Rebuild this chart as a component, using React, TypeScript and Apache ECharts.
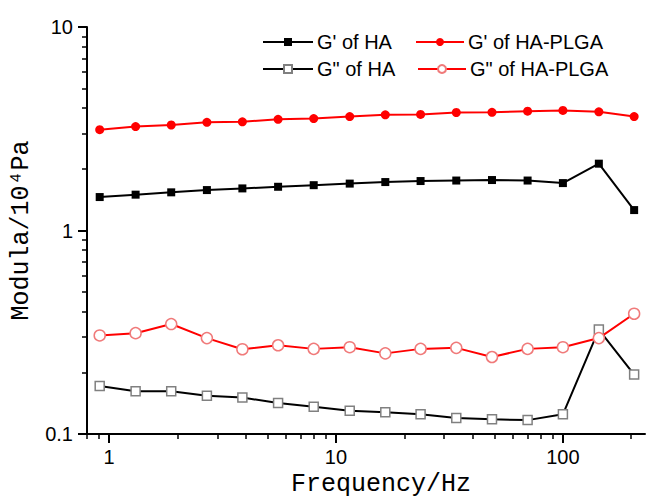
import React, { useEffect, useRef } from "react";
import * as echarts from "echarts";

const freq = [0.91, 1.31, 1.88, 2.7, 3.87, 5.56, 7.98, 11.5, 16.5, 23.6, 33.9, 48.7, 69.9, 100, 144, 206];
const gpHA = [1.46, 1.5, 1.54, 1.58, 1.61, 1.64, 1.67, 1.7, 1.73, 1.75, 1.76, 1.77, 1.76, 1.71, 2.13, 1.26];
const gpHAPLGA = [3.13, 3.24, 3.3, 3.4, 3.42, 3.52, 3.55, 3.63, 3.7, 3.72, 3.8, 3.81, 3.86, 3.89, 3.83, 3.63];
const gppHA = [0.172, 0.162, 0.162, 0.154, 0.151, 0.142, 0.136, 0.13, 0.128, 0.125, 0.12, 0.118, 0.117, 0.125, 0.326, 0.196];
const gppHAPLGA = [0.305, 0.313, 0.347, 0.296, 0.261, 0.273, 0.262, 0.267, 0.249, 0.262, 0.265, 0.239, 0.262, 0.267, 0.296, 0.39];

const seriesNames = ["G' of HA", "G' of HA-PLGA", 'G" of HA', 'G" of HA-PLGA'];
const xMajor = [1, 10, 100];
const xMinor = [0.8, 0.9, 2, 3, 4, 5, 6, 7, 8, 9, 20, 30, 40, 50, 60, 70, 80, 90, 200];
const yMajor = [0.1, 1, 10];
const yMinor = [0.2, 0.3, 0.4, 0.5, 0.6, 0.7, 0.8, 0.9, 2, 3, 4, 5, 6, 7, 8, 9];

const SANS = "'Liberation Sans', Arial, sans-serif";
const MONO = "'Liberation Mono', 'Courier New', monospace";

export default function App() {
  const ref = useRef<HTMLDivElement>(null);
  useEffect(() => {
    if (!ref.current) return;
    const chart = echarts.init(ref.current, undefined, { renderer: "svg" });
    const pairs = (ys: number[]) => freq.map((f, i) => [f, ys[i]]);
    const legendBase = {
      itemHeight: 10,
      itemGap: 0,
      padding: 0,
      textStyle: { fontSize: 20, color: "#000", fontFamily: SANS, padding: [0, 0, 0, -1] },
    };
    const option: any = {
      animation: false,
      backgroundColor: "#fff",
      grid: { left: 87, right: 3, top: 27, bottom: 69, containLabel: false, outerBoundsMode: "none" },
      legend: [
        { ...legendBase, itemWidth: 50, data: [seriesNames[0]], left: 262, top: 32 },
        { ...legendBase, itemWidth: 48, data: [seriesNames[1]], left: 415, top: 32 },
        { ...legendBase, itemWidth: 50, data: [seriesNames[2]], left: 262, top: 59 },
        { ...legendBase, itemWidth: 48, data: [seriesNames[3]], left: 417, top: 59 },
      ],
      xAxis: [
        {
          type: "log",
          logBase: 10,
          min: 0.8,
          max: 230,
          position: "bottom",
          axisLine: { show: true, lineStyle: { color: "#000", width: 2 } },
          axisTick: { show: true, customValues: xMajor, length: 9, lineStyle: { color: "#000", width: 2 } },
          axisLabel: {
            customValues: xMajor,
            formatter: (v: number) => String(v),
            fontSize: 20,
            color: "#000",
            fontFamily: SANS,
            margin: 13,
          },
          splitLine: { show: false },
          minorTick: { show: false },
          name: "Frequency/Hz",
          nameLocation: "middle",
          nameGap: 35,
          nameTextStyle: { fontSize: 25, color: "#000", fontFamily: MONO, padding: [0, 0, 0, 30] },
        },
        {
          type: "log",
          logBase: 10,
          min: 0.8,
          max: 230,
          position: "bottom",
          axisLine: { show: false },
          axisTick: { show: true, customValues: xMinor, length: 5, lineStyle: { color: "#000", width: 1.5 } },
          axisLabel: { show: false },
          splitLine: { show: false },
        },
      ],
      yAxis: [
        {
          type: "log",
          logBase: 10,
          min: 0.1,
          max: 10,
          position: "left",
          axisLine: { show: true, lineStyle: { color: "#000", width: 2 } },
          axisTick: { show: true, customValues: yMajor, length: 9, lineStyle: { color: "#000", width: 2 } },
          axisLabel: {
            customValues: yMajor,
            formatter: (v: number) => String(v),
            fontSize: 20,
            color: "#000",
            fontFamily: SANS,
            margin: 14,
          },
          splitLine: { show: false },
          name: "Modula/10\u2074Pa",
          nameLocation: "middle",
          nameRotate: 90,
          nameGap: 52,
          nameTextStyle: { fontSize: 25, color: "#000", fontFamily: MONO },
        },
        {
          type: "log",
          logBase: 10,
          min: 0.1,
          max: 10,
          position: "left",
          axisLine: { show: false },
          axisTick: { show: true, customValues: yMinor, length: 5, lineStyle: { color: "#000", width: 1.5 } },
          axisLabel: { show: false },
          splitLine: { show: false },
        },
      ],
      series: [
        {
          name: seriesNames[0],
          type: "line",
          data: pairs(gpHA),
          symbol: "rect",
          symbolSize: 8,
          lineStyle: { color: "#000", width: 2 },
          itemStyle: { color: "#000" },
          z: 2,
        },
        {
          name: seriesNames[1],
          type: "line",
          data: pairs(gpHAPLGA),
          symbol: "circle",
          symbolSize: 9,
          lineStyle: { color: "#ff0000", width: 2 },
          itemStyle: { color: "#ff0000" },
          z: 3,
        },
        {
          name: seriesNames[2],
          type: "line",
          data: pairs(gppHA),
          symbol: "rect",
          symbolSize: 9,
          showAllSymbol: true,
          lineStyle: { color: "#000", width: 2 },
          itemStyle: { color: "#fff", borderColor: "#808080", borderWidth: 1.5 },
          z: 2,
        },
        {
          name: seriesNames[3],
          type: "line",
          data: pairs(gppHAPLGA),
          symbol: "circle",
          symbolSize: 11,
          lineStyle: { color: "#ff0000", width: 2 },
          itemStyle: { color: "#fff", borderColor: "#f07a7a", borderWidth: 1.5 },
          z: 3,
        },
      ],
    };
    chart.setOption(option);
    return () => chart.dispose();
  }, []);
  return (
    <div
      ref={ref}
      style={{ position: "fixed", left: 0, top: 0, width: 648, height: 503, background: "#fff" }}
    />
  );
}
